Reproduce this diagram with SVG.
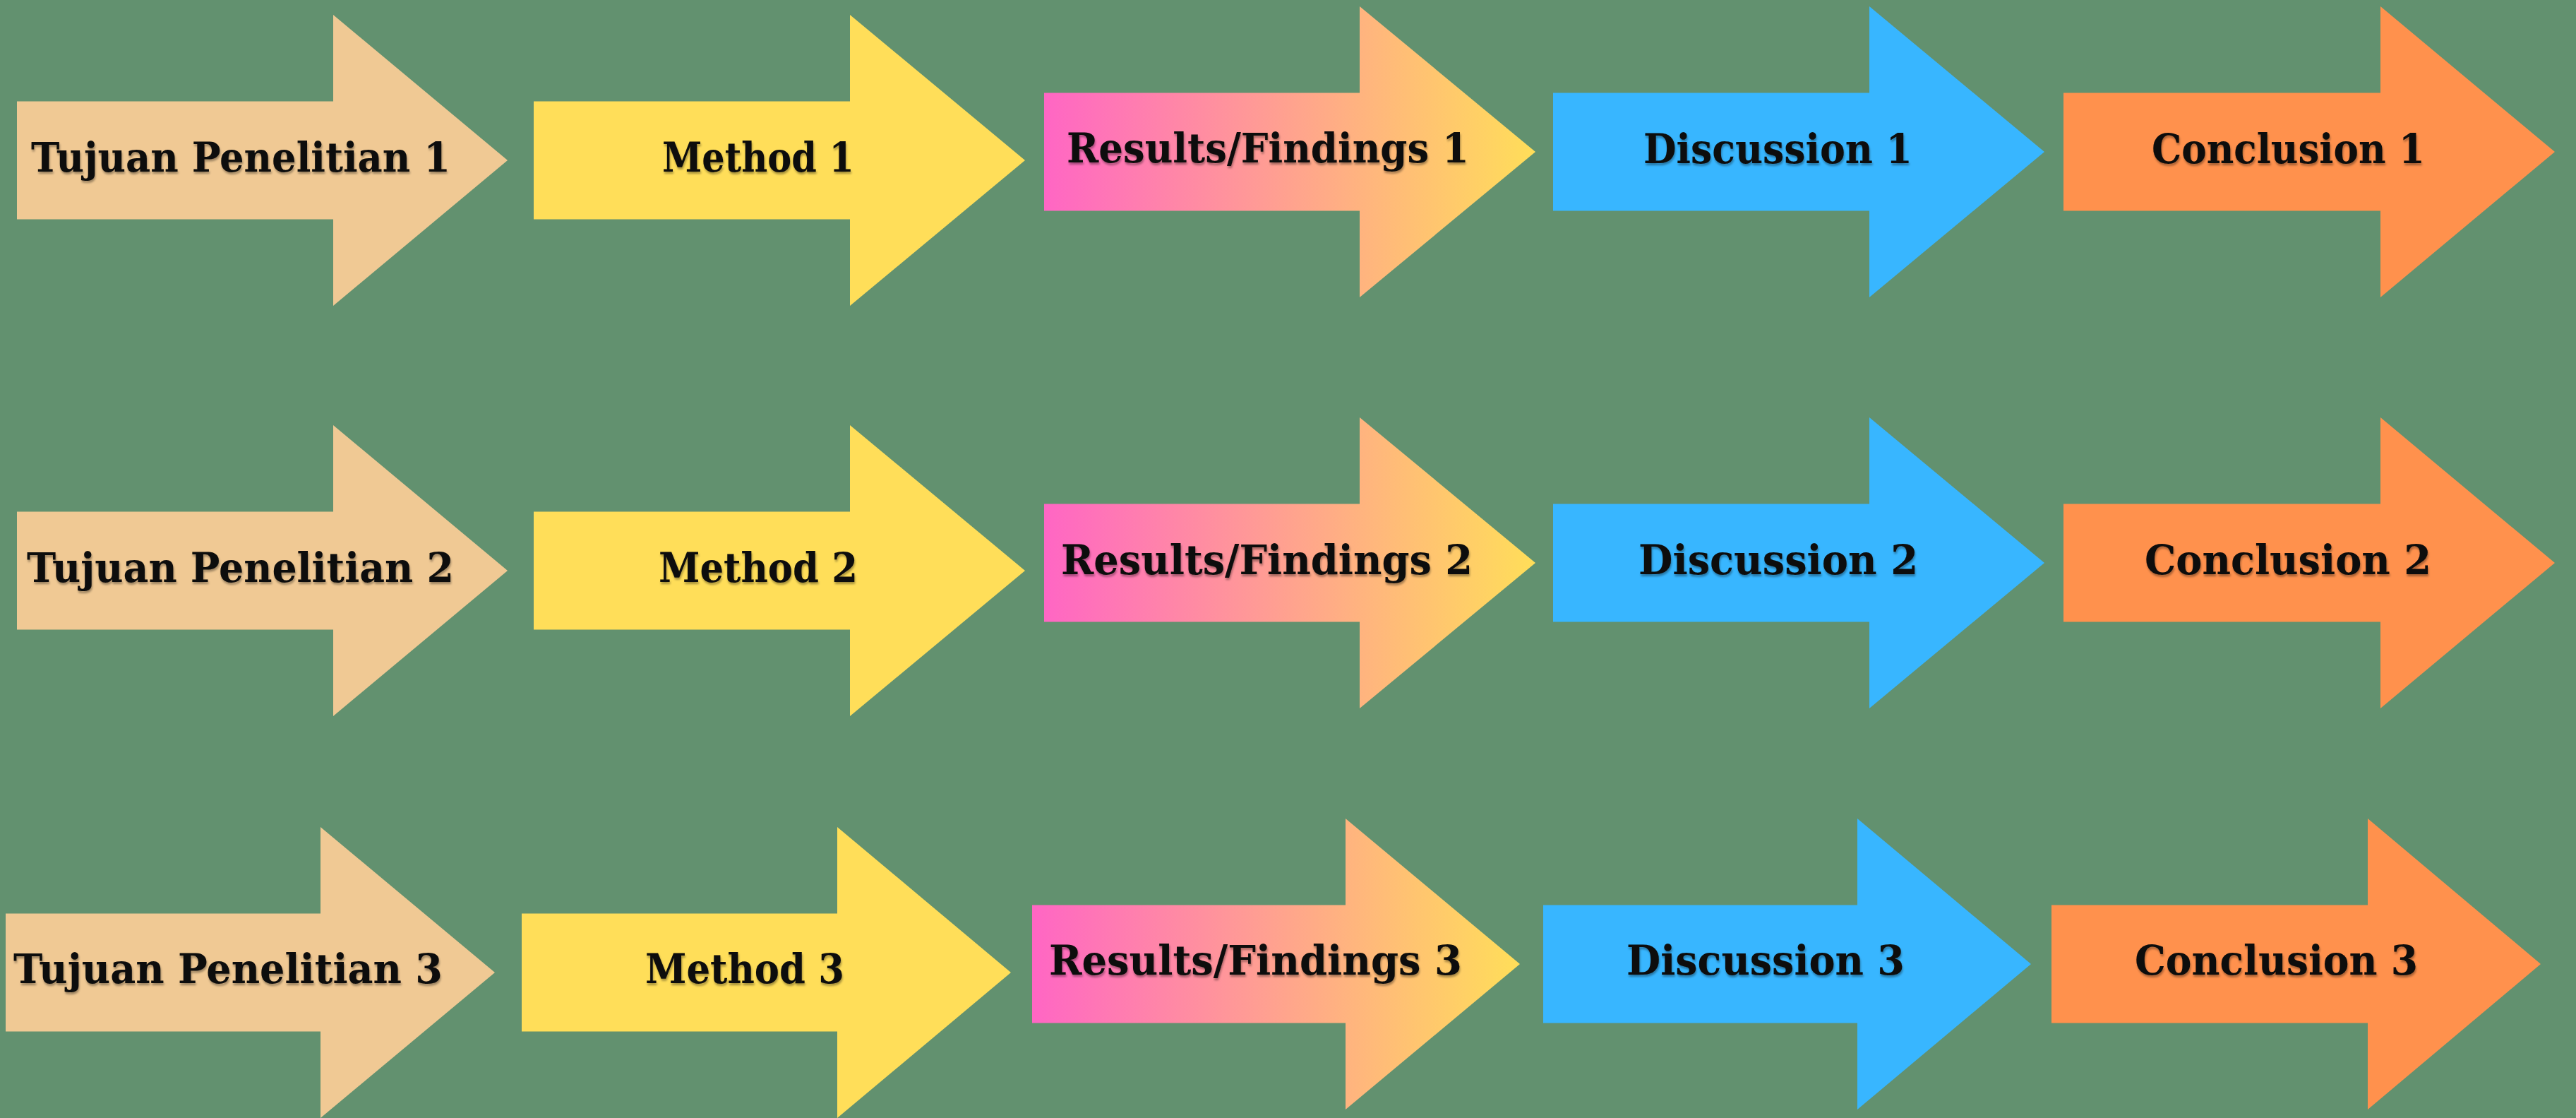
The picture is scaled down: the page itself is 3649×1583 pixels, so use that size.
<svg xmlns="http://www.w3.org/2000/svg" width="3649" height="1583" viewBox="0 0 3649 1583">
<defs>
<linearGradient id="gRes" x1="0" y1="0" x2="1" y2="0">
<stop offset="0" stop-color="#FF66C4"/>
<stop offset="1" stop-color="#FFDE59"/>
</linearGradient>
<filter id="ts" x="-5%" y="-20%" width="110%" height="150%">
<feDropShadow dx="1" dy="3" stdDeviation="1.5" flood-color="#000" flood-opacity="0.35"/>
</filter>
</defs>
<style>
.tuj{fill:#F0C994}
.met{fill:#FFDE59}
.res{fill:url(#gRes)}
.dis{fill:#38B6FF}
.con{fill:#FF914D}
text{font-family:"DejaVu Serif","Liberation Serif",serif;font-weight:bold;font-size:58px;fill:#0d0b0a;filter:url(#ts)}
</style>
<rect width="3649" height="1583" fill="#62916F"/>

<g id="tujuan1"><path class="tuj" d="M24,143.5 H472 V21 L719,227 L472,433 V310.5 H24 Z"/><text x="44" y="243" textLength="594" lengthAdjust="spacingAndGlyphs">Tujuan Penelitian 1</text></g>
<g id="method1"><path class="met" d="M756,143.5 H1204 V21 L1452,227 L1204,433 V310.5 H756 Z"/><text x="938" y="243" textLength="272" lengthAdjust="spacingAndGlyphs">Method 1</text></g>
<g id="results1"><path class="res" d="M1479,131.5 H1926 V9 L2175,215 L1926,421 V298.5 H1479 Z"/><text x="1511" y="230" textLength="570" lengthAdjust="spacingAndGlyphs">Results/Findings 1</text></g>
<g id="discussion1"><path class="dis" d="M2200,131.5 H2648 V9 L2896,215 L2648,421 V298.5 H2200 Z"/><text x="2328" y="231" textLength="381" lengthAdjust="spacingAndGlyphs">Discussion 1</text></g>
<g id="conclusion1"><path class="con" d="M2923,131.5 H3372 V9 L3619,215 L3372,421 V298.5 H2923 Z"/><text x="3048" y="231" textLength="387" lengthAdjust="spacingAndGlyphs">Conclusion 1</text></g>

<g id="tujuan2"><path class="tuj" d="M24,724.5 H472 V602 L719,808 L472,1014 V891.5 H24 Z"/><text x="38" y="824" textLength="605" lengthAdjust="spacingAndGlyphs">Tujuan Penelitian 2</text></g>
<g id="method2"><path class="met" d="M756,724.5 H1204 V602 L1452,808 L1204,1014 V891.5 H756 Z"/><text x="933" y="824" textLength="282" lengthAdjust="spacingAndGlyphs">Method 2</text></g>
<g id="results2"><path class="res" d="M1479,713.5 H1926 V591 L2175,797 L1926,1003 V880.5 H1479 Z"/><text x="1503" y="813" textLength="583" lengthAdjust="spacingAndGlyphs">Results/Findings 2</text></g>
<g id="discussion2"><path class="dis" d="M2200,713.5 H2648 V591 L2896,797 L2648,1003 V880.5 H2200 Z"/><text x="2321" y="813" textLength="396" lengthAdjust="spacingAndGlyphs">Discussion 2</text></g>
<g id="conclusion2"><path class="con" d="M2923,713.5 H3372 V591 L3619,797 L3372,1003 V880.5 H2923 Z"/><text x="3038" y="813" textLength="406" lengthAdjust="spacingAndGlyphs">Conclusion 2</text></g>

<g id="tujuan3"><path class="tuj" d="M8,1293.5 H454 V1171 L701,1377 L454,1583 V1460.5 H8 Z"/><text x="19" y="1392" textLength="608" lengthAdjust="spacingAndGlyphs">Tujuan Penelitian 3</text></g>
<g id="method3"><path class="met" d="M739,1293.5 H1186 V1171 L1432,1377 L1186,1583 V1460.5 H739 Z"/><text x="914" y="1392" textLength="282" lengthAdjust="spacingAndGlyphs">Method 3</text></g>
<g id="results3"><path class="res" d="M1462,1281.5 H1906 V1159 L2153,1365 L1906,1571 V1448.5 H1462 Z"/><text x="1486" y="1380" textLength="585" lengthAdjust="spacingAndGlyphs">Results/Findings 3</text></g>
<g id="discussion3"><path class="dis" d="M2186,1281.5 H2631 V1159 L2877,1365 L2631,1571 V1448.5 H2186 Z"/><text x="2304" y="1380" textLength="394" lengthAdjust="spacingAndGlyphs">Discussion 3</text></g>
<g id="conclusion3"><path class="con" d="M2906,1281.5 H3354 V1159 L3599,1365 L3354,1571 V1448.5 H2906 Z"/><text x="3024" y="1380" textLength="401" lengthAdjust="spacingAndGlyphs">Conclusion 3</text></g>
</svg>
